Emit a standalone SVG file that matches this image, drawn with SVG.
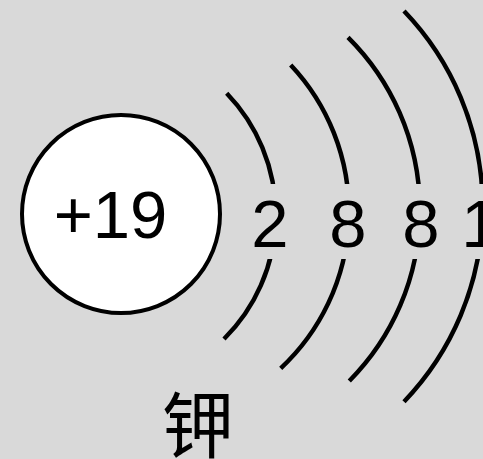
<svg xmlns="http://www.w3.org/2000/svg" width="483" height="459" viewBox="0 0 483 459">
  <style>
    .shell { fill: none; stroke: #000; stroke-width: 4.5; stroke-linecap: butt; }
    .num { font-family: "Liberation Sans", Arial, sans-serif; font-size: 67px; fill: #000; text-anchor: middle; }
    .cjk { font-family: "Noto Sans CJK SC", "Noto Sans CJK TC", sans-serif; font-size: 72px; fill: #000; text-anchor: middle; }
  </style>
  <rect x="0" y="0" width="483" height="459" fill="#d9d9d9"/>
  <g id="shells">
    <path class="shell" d="M226.7,93.3 A175,175 0 0 1 224,339"/>
    <path class="shell" d="M290.7,65 A214,214 0 0 1 280.7,368.3"/>
    <path class="shell" d="M348,37.3 A243,243 0 0 1 349.3,381"/>
    <path class="shell" d="M404,11 A282,282 0 0 1 404,401.7"/>
  </g>
  <rect x="242" y="184" width="241" height="75" fill="#d9d9d9"/>
  <g id="nucleus">
    <circle cx="121" cy="214" r="99" fill="#fff" stroke="#000" stroke-width="4"/>
    <text class="num" x="110.5" y="238">+19</text>
  </g>
  <g id="electrons">
    <text class="num" x="270" y="247">2</text>
    <text class="num" x="348" y="247">8</text>
    <text class="num" x="421" y="247">8</text>
    <text class="num" x="480" y="247">1</text>
  </g>
  <g id="element-name">
    <text class="cjk" x="198" y="452">钾</text>
  </g>
</svg>
